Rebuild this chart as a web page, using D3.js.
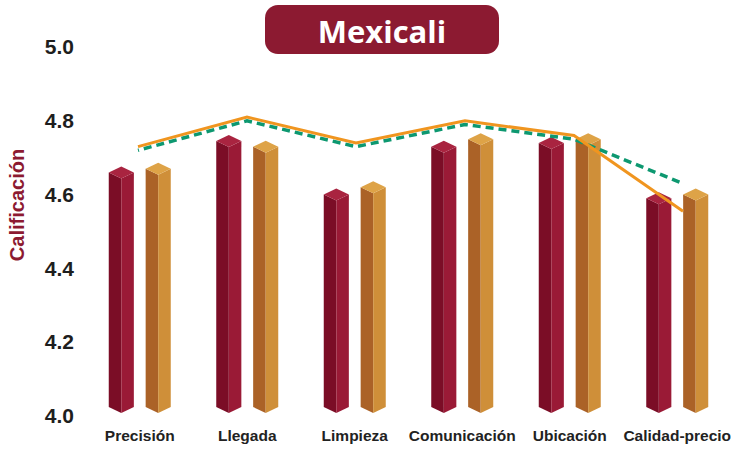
<!DOCTYPE html>
<html>
<head>
<meta charset="utf-8">
<script src="https://cdn.jsdelivr.net/npm/d3@7"></script>
<style>
  body { margin: 0; background: #fff; }
  svg { display: block; font-family: "Liberation Sans", Arial, sans-serif; }
</style>
</head>
<body>
<svg id="chart" width="735" height="449"></svg>
<script>
// data
const categories = ["Precisión", "Llegada", "Limpieza", "Comunicación", "Ubicación", "Calidad-precio"];
const barSeries = ["rojo", "naranja"];
const barRojo = [4.66, 4.745, 4.60, 4.73, 4.74, 4.59];
const barNaranja = [4.67, 4.73, 4.62, 4.75, 4.75, 4.60];
const lineaNaranja = [4.73, 4.81, 4.74, 4.80, 4.76, 4.555];
const lineaVerde = [4.72, 4.80, 4.73, 4.79, 4.75, 4.63];
const yTicks = [4.0, 4.2, 4.4, 4.6, 4.8, 5.0];

let svg = d3.select("#chart");

// scales
let y = d3.scaleLinear().domain([4.0, 5.0]).range([416, 47]);
let x0 = d3.scaleBand().domain(categories).range([86, 731]);
let x1 = d3.scaleBand().domain(barSeries).range([-31, 31]).paddingInner(0.32);
let xLine = d3.scalePoint().domain(categories).range([138, 683]);

// face colours for the prism bars: left, right, top
let colors = {
  rojo: ["#7b0d26", "#9a1a36", "#a92440"],
  naranja: ["#ab6227", "#cf8f39", "#dea347"]
};

// title box
svg.append("rect")
  .attr("x", 265).attr("y", 5)
  .attr("width", 234).attr("height", 49)
  .attr("rx", 13)
  .attr("fill", "#8c1a31");
svg.append("text")
  .attr("x", 382).attr("y", 43)
  .attr("text-anchor", "middle")
  .attr("fill", "#fff")
  .style("font-family", "'Open Sans', sans-serif")
  .style("font-weight", "bold")
  .style("font-size", "31px")
  .text("Mexicali");

// y axis (labels only)
let yAxis = d3.axisLeft(y).tickValues(yTicks).tickFormat(d3.format(".1f")).tickSize(0).tickPadding(0);
let gy = svg.append("g").attr("transform", "translate(74,0)").call(yAxis);
gy.select(".domain").remove();
gy.selectAll("text")
  .attr("fill", "#1e1e1e")
  .style("font-size", "21px")
  .style("font-weight", "bold");

svg.append("text")
  .attr("transform", "translate(24,205) rotate(-90)")
  .attr("text-anchor", "middle")
  .attr("fill", "#8c1a31")
  .style("font-size", "20px")
  .style("font-weight", "bold")
  .text("Calificación");

// x axis (labels only)
let xAxis = d3.axisBottom(x0).tickSize(0).tickPadding(0);
let gx = svg.append("g").attr("transform", "translate(0,427)").call(xAxis);
gx.select(".domain").remove();
gx.selectAll("text")
  .attr("fill", "#222")
  .attr("dy", "0.9em")
  .style("font-size", "15.5px")
  .style("font-weight", "bold");

// prism bars
let bars = [];
categories.forEach(function(c, i) {
  bars.push({ cat: c, s: "rojo", v: barRojo[i] });
  bars.push({ cat: c, s: "naranja", v: barNaranja[i] });
});

let d = 6;       // diamond half height
let base = y(4.0) - 3;

let g = svg.selectAll("g.bar")
  .data(bars)
  .enter()
  .append("g")
  .attr("class", "bar");

function pts(arr) { return arr.map(p => p.join(",")).join(" "); }

g.each(function(b) {
  let sel = d3.select(this);
  let xl = x0(b.cat) + x0.bandwidth() / 2 + x1(b.s);
  let w = x1.bandwidth();
  let xr = xl + w;
  let cx = xl + w / 2;
  let t = y(b.v);
  let col = colors[b.s];
  // left face
  sel.append("polygon")
    .attr("points", pts([[xl, t], [cx, t + d], [cx, base], [xl, base - d]]))
    .attr("fill", col[0]);
  // right face
  sel.append("polygon")
    .attr("points", pts([[cx, t + d], [xr, t], [xr, base - d], [cx, base]]))
    .attr("fill", col[1]);
  // top
  sel.append("polygon")
    .attr("points", pts([[xl, t], [cx, t - d], [xr, t], [cx, t + d]]))
    .attr("fill", col[2]);
});

// lines
let line = d3.line()
  .x((v, i) => xLine(categories[i]))
  .y(v => y(v));

svg.append("path")
  .attr("d", line(lineaVerde))
  .attr("fill", "none")
  .attr("stroke", "#0d9870")
  .attr("stroke-width", 3.5)
  .attr("stroke-dasharray", "8,5")
  .attr("stroke-dashoffset", -6);

svg.append("path")
  .attr("d", line(lineaNaranja))
  .attr("fill", "none")
  .attr("stroke", "#f0951f")
  .attr("stroke-width", 3);
</script>
</body>
</html>
